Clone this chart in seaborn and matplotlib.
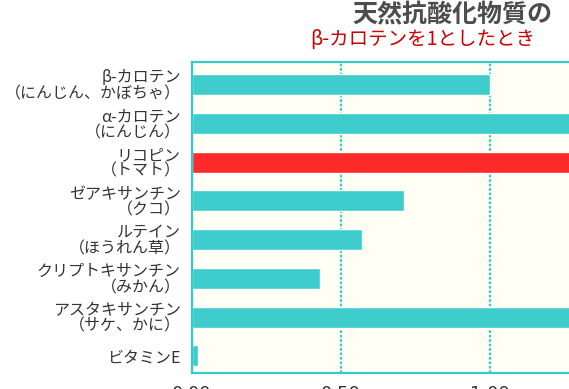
import numpy as np
import pandas as pd
import matplotlib
matplotlib.use("Agg")
import matplotlib.pyplot as plt
import seaborn as sns

# data (relative to beta-carotene = 1)
names = ["β-カロテン\n（にんじん、かぼちゃ）",
         "α-カロテン\n（にんじん）",
         "リコピン\n（トマト）",
         "ゼアキサンチン\n（クコ）",
         "ルテイン\n（ほうれん草）",
         "クリプトキサンチン\n（みかん）",
         "アスタキサンチン\n（サケ、かに）",
         "ビタミンE"]
values = [1.00, 1.36, 2.21, 0.71, 0.57, 0.43, 1.71, 0.02]
bar_colors = ["#3ecccc", "#3ecccc", "#ff2a2a", "#3ecccc",
              "#3ecccc", "#3ecccc", "#3ecccc", "#3ecccc"]
xticks = [0.0, 0.5, 1.0, 1.5, 2.0, 2.5]

df = pd.DataFrame({"name": names, "value": values})

sns.set_style("white")
plt.rcParams["font.family"] = ["Noto Sans CJK JP", "DejaVu Sans"]

cyan = "#33cccc"

fig = plt.figure(figsize=(5.69, 3.89), dpi=100)
# axes runs past the right edge of the picture, like the cropped original
ax = fig.add_axes([192 / 569, 16 / 389, 2.5 * 298 / 569, 311 / 389])
ax.set_facecolor("#fffff3")

sns.barplot(data=df, x="value", y="name", hue="name", palette=bar_colors,
            legend=False, orient="h", width=0.54, saturation=1, ax=ax)

ax.set_xlim(0, 2.5)
ax.set_ylim(7.44, -0.58)
ax.set_xticks(xticks)
ax.set_xticklabels(["%.2f" % t for t in xticks], family="DejaVu Sans",
                   fontsize=13, color="#333333")
ax.set_xlabel("")
ax.set_ylabel("")
ax.tick_params(axis="x", length=0, pad=8.5)
ax.tick_params(axis="y", length=0, pad=8, labelsize=11.5, labelcolor="#333333")
for lab in ax.get_yticklabels():
    lab.set_linespacing(0.9)

# dotted vertical grid
ax.set_axisbelow(True)
ax.xaxis.grid(True, color=cyan, linestyle=(0, (1.2, 0.8)), linewidth=1.6)

for s in ["left", "bottom", "top"]:
    ax.spines[s].set_color(cyan)
    ax.spines[s].set_linewidth(1.6)
ax.spines["right"].set_visible(False)

# titles
fig.text(352 / 569, 1 - 3 / 389, "天然抗酸化物質の", ha="left", va="top",
         fontsize=18, fontweight="bold", color="#4d4d4d")
fig.text(310 / 569, 1 - 29 / 389, "β-カロテンを1としたとき", ha="left", va="top",
         fontsize=14, color="#cc0000")

fig.savefig("out.png", dpi=100)
